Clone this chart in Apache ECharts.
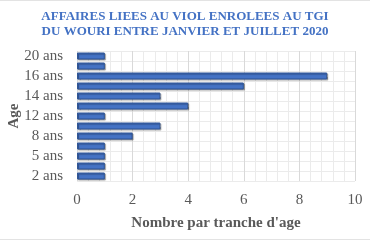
<!DOCTYPE html>
<html>
<head>
<meta charset="utf-8">
<script src="https://cdn.jsdelivr.net/npm/echarts@6/dist/echarts.min.js"></script>
<style>
  html, body { margin: 0; padding: 0; background: #fff; }
  #main { width: 370px; height: 241px; }
</style>
</head>
<body>
<div id="main"></div>
<script>
  // tranches d'age (de bas en haut)
  const ages = ['2 ans', '4 ans', '5 ans', '7 ans', '8 ans', '10 ans', '12 ans', '13 ans', '14 ans', '15 ans', '16 ans', '17 ans', '20 ans']
  const nombres = [1, 1, 1, 1, 2, 3, 1, 4, 3, 6, 9, 1, 1]
  const xTicks = [0, 2, 4, 6, 8, 10]

  const chart = echarts.init(document.getElementById('main'))
  const serif = "'Liberation Serif', 'DejaVu Serif', serif"

  const option = {
    animation: false,
    title: {
      text: 'AFFAIRES LIEES AU VIOL ENROLEES AU TGI\nDU WOURI ENTRE JANVIER ET JUILLET 2020',
      left: 'center',
      top: 4,
      textStyle: {
        fontFamily: serif,
        fontWeight: 'bold',
        fontSize: 13,
        lineHeight: 15,
        color: '#4472C4'
      }
    },
    graphic: [
      { type: 'line', shape: { x1: 0, y1: 0.5, x2: 370, y2: 0.5 }, style: { stroke: '#e3e3e3', lineWidth: 1 } },
      { type: 'line', shape: { x1: 0, y1: 239.5, x2: 370, y2: 239.5 }, style: { stroke: '#e3e3e3', lineWidth: 1 } }
    ],
    grid: {
      left: 77,
      right: 15,
      top: 51,
      bottom: 60,
      outerBoundsMode: 'none',
      containLabel: false
    },
    xAxis: {
      type: 'value',
      min: xTicks[0],
      max: xTicks[xTicks.length - 1],
      interval: 2,
      name: "Nombre par tranche d'age",
      nameLocation: 'middle',
      nameGap: 35,
      nameMoveOverlap: false,
      nameTextStyle: {
        fontFamily: serif,
        fontWeight: 'bold',
        fontSize: 15,
        color: '#595959'
      },
      axisLine: { show: false },
      axisTick: { show: false },
      axisLabel: {
        margin: 12,
        fontFamily: serif,
        fontSize: 15,
        color: '#595959'
      },
      splitLine: { show: true, lineStyle: { color: '#d9d9d9', width: 1 } },
      minorTick: { show: false, splitNumber: 5 },
      minorSplitLine: { show: true, lineStyle: { color: '#ebebeb', width: 1 } }
    },
    yAxis: {
      type: 'category',
      data: ages,
      name: 'Age',
      nameLocation: 'middle',
      nameRotate: 90,
      nameGap: 55,
      nameMoveOverlap: false,
      nameTextStyle: {
        fontFamily: serif,
        fontWeight: 'bold',
        fontSize: 15,
        color: '#595959'
      },
      axisLine: { show: false },
      axisTick: { show: false },
      axisLabel: {
        interval: 1,
        margin: 14,
        fontFamily: serif,
        fontSize: 15,
        color: '#595959'
      },
      splitLine: { show: true, interval: 0, lineStyle: { color: '#ebebeb', width: 1 } }
    },
    series: [
      {
        name: 'Nombre',
        type: 'bar',
        data: nombres,
        barWidth: '70%',
        itemStyle: {
          color: '#4472C4',
          borderColor: '#2F5597',
          borderWidth: 1,
          shadowColor: 'rgba(0, 0, 0, 0.35)',
          shadowOffsetX: 1,
          shadowOffsetY: 1,
          shadowBlur: 1
        }
      }
    ]
  }
  chart.setOption(option)
</script>
</body>
</html>
